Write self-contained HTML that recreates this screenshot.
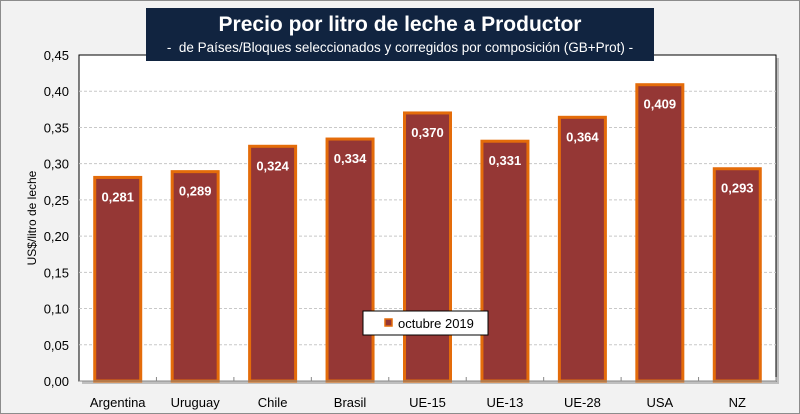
<!DOCTYPE html>
<html><head><meta charset="utf-8"><style>
html,body{margin:0;padding:0}
body{width:800px;height:414px;overflow:hidden;background:#f2f2f2;font-family:"Liberation Sans",Arial,sans-serif}
#frame{position:absolute;left:0;top:0;width:798px;height:412px;border:1px solid #8c8c8c;background:#f2f2f2}
#title{position:absolute;left:146px;top:8px;width:508px;height:53px;background:#112440;color:#fff;text-align:center}
#title .t1{font-size:21px;font-weight:bold;margin-top:5px}
#title .t2{font-size:13.5px;margin-top:3px}
svg{position:absolute;left:0;top:0}
</style></head><body>
<div id="frame"></div>
<svg id="chart" width="800" height="414"></svg>
<div id="title">
<div class="t1">Precio por litro de leche a Productor</div>
<div class="t2">-&nbsp; de Países/Bloques seleccionados y corregidos por composición (GB+Prot) -</div>
</div>
<script>
const categories=["Argentina","Uruguay","Chile","Brasil","UE-15","UE-13","UE-28","USA","NZ"];
const values=[0.281,0.289,0.324,0.334,0.370,0.331,0.364,0.409,0.293];
const valueLabels=["0,281","0,289","0,324","0,334","0,370","0,331","0,364","0,409","0,293"];
const ticks=[0,0.05,0.10,0.15,0.20,0.25,0.30,0.35,0.40,0.45];
const tickLabels=["0,00","0,05","0,10","0,15","0,20","0,25","0,30","0,35","0,40","0,45"];
const NS="http://www.w3.org/2000/svg";
const svg=document.getElementById('chart');
const L=79,R=776,T=55,B=381,yMax=0.45;
const y=v=>B-(v/yMax)*(B-T);
const bw=(R-L)/categories.length;
const x=i=>L+bw*(i+0.5);
function mk(tag,attrs,parent){const e=document.createElementNS(NS,tag);for(const k in attrs)e.setAttribute(k,attrs[k]);(parent||svg).appendChild(e);return e;}
// shadow + plot area
let sh=mk('rect',{x:L+3,y:T+3,width:R-L,height:B-T,fill:'#bfbfbf'});


let pa=mk('rect',{x:L,y:T,width:R-L,height:B-T,fill:'#fff',stroke:'#000','stroke-width':1});


ticks.forEach((t,i)=>{
  if(i>0&&t<yMax){let g=mk('line',{x1:L,x2:R,y1:y(t),y2:y(t),stroke:'#c8c8c8','stroke-dasharray':'3,2'});
  
  }
  let tx=mk('text',{x:L-10,y:y(t)+5,'text-anchor':'end','font-size':13,fill:'#000'});
  tx.textContent=tickLabels[i];
  
  
});
categories.forEach((c,i)=>{
  let tk=mk('line',{x1:L+bw*(i+1),x2:L+bw*(i+1),y1:B,y2:B-4,stroke:'#888'});
  
  
  let b=mk('rect',{x:x(i)-23,y:y(values[i]),width:46,height:B-y(values[i]),fill:'#953735',stroke:'#e46c0a','stroke-width':3});
  
  
  let vl=mk('text',{x:x(i),y:y(values[i])+24,'text-anchor':'middle','font-size':13,'font-weight':'bold',fill:'#fff'});
  vl.textContent=valueLabels[i];
  
  
  let cl=mk('text',{x:x(i),y:B+26,'text-anchor':'middle','font-size':13,fill:'#000'});
  cl.textContent=c;
  
  
});
let ax=mk('line',{x1:L,x2:R,y1:B,y2:B,stroke:'#888'});


let yt=mk('text',{x:0,y:0,'text-anchor':'middle','font-size':12,fill:'#000',transform:'translate(36,'+((T+B)/2)+') rotate(-90)'});
yt.textContent='US$/litro de leche';


// legend
let lg=mk('g',{});


mk('rect',{x:363,y:311,width:125,height:24,fill:'#fff',stroke:'#000','stroke-width':1},lg);
let ls=mk('rect',{x:385,y:319,width:7,height:7,fill:'#953735',stroke:'#e46c0a','stroke-width':1.5},lg);


let lt=mk('text',{x:398,y:328,'font-size':13,fill:'#000'},lg);
lt.textContent='octubre 2019';


</script>
</body></html>
